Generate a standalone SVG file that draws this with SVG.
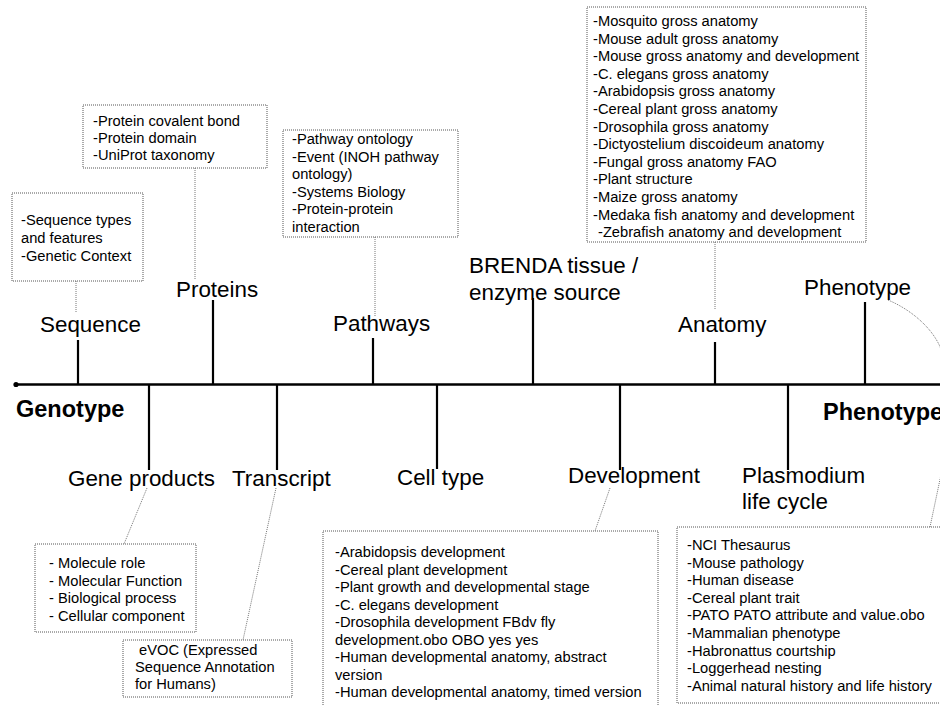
<svg xmlns="http://www.w3.org/2000/svg" width="940" height="706" viewBox="0 0 940 706">
<style>
text{font-family:"Liberation Sans",Arial,sans-serif;fill:#000}
.lbl{font-size:22.4px}
.bold{font-size:23.5px;font-weight:bold}
.t{font-size:14.7px}
.box{fill:none;stroke:#555;stroke-width:1;stroke-dasharray:1 1}
.tick{stroke:#000;stroke-width:2.2;fill:none}
.con{stroke:#777;stroke-width:1;stroke-dasharray:1 1;fill:none}
</style>
<rect width="940" height="706" fill="#fff"/>
<g id="connectors">
<line x1="15" y1="384.5" x2="942" y2="384.5" stroke="#000" stroke-width="2.5"/>
<circle cx="16" cy="384.5" r="2.6" fill="#000"/>
<line class="tick" x1="78" y1="340" x2="78" y2="384"/>
<line class="tick" x1="213" y1="300" x2="213" y2="384"/>
<line class="tick" x1="373" y1="338" x2="373" y2="384"/>
<line class="tick" x1="533" y1="298" x2="533" y2="384"/>
<line class="tick" x1="715" y1="342" x2="715" y2="384"/>
<line class="tick" x1="865" y1="302" x2="865" y2="384"/>
<line class="tick" x1="149" y1="384" x2="149" y2="470"/>
<line class="tick" x1="277" y1="384" x2="277" y2="470"/>
<line class="tick" x1="437" y1="384" x2="437" y2="469"/>
<line class="tick" x1="620" y1="384" x2="620" y2="470"/>
<line class="tick" x1="788" y1="384" x2="788" y2="470"/>
<line class="con" x1="76" y1="281" x2="76" y2="312"/>
<line class="con" x1="195" y1="168" x2="195" y2="280"/>
<line class="con" x1="375" y1="237" x2="375" y2="316"/>
<line class="con" x1="715" y1="242" x2="715" y2="310"/>
<line class="con" x1="147" y1="488" x2="124" y2="544"/>
<line class="con" x1="276" y1="488" x2="243" y2="640"/>
<line class="con" x1="610" y1="488" x2="595" y2="531"/>
<line class="con" x1="930" y1="527" x2="942" y2="470"/>
<path class="con" d="M888 300 C912 310 935 330 942 352"/>
</g>
<g id="genotype"><text class="bold" x="16" y="417">Genotype</text></g>
<g id="phenotype-end"><text class="bold" x="823" y="420">Phenotype</text></g>
<g id="sequence"><text class="lbl" x="40" y="332">Sequence</text></g>
<g id="proteins"><text class="lbl" x="176" y="297">Proteins</text></g>
<g id="pathways"><text class="lbl" x="333" y="331">Pathways</text></g>
<g id="brenda"><text class="lbl" x="469" y="273">BRENDA tissue /</text><text class="lbl" x="469" y="300">enzyme source</text></g>
<g id="anatomy"><text class="lbl" x="678" y="332">Anatomy</text></g>
<g id="phenotype"><text class="lbl" x="804" y="295">Phenotype</text></g>
<g id="gene-products"><text class="lbl" x="68" y="486">Gene products</text></g>
<g id="transcript"><text class="lbl" x="232" y="486">Transcript</text></g>
<g id="cell-type"><text class="lbl" x="397" y="485">Cell type</text></g>
<g id="development"><text class="lbl" x="568" y="483">Development</text></g>
<g id="plasmodium"><text class="lbl" x="742" y="483">Plasmodium</text><text class="lbl" x="742" y="509">life cycle</text></g>

<g id="box-sequence">
<rect class="box" x="12" y="193" width="131" height="88"/>
<text class="t" x="21" y="225">-Sequence types</text>
<text class="t" x="21" y="243">and features</text>
<text class="t" x="21" y="261">-Genetic Context</text>
</g>
<g id="box-proteins">
<rect class="box" x="83" y="105" width="184" height="63"/>
<text class="t" x="93" y="126">-Protein covalent bond</text>
<text class="t" x="93" y="143">-Protein domain</text>
<text class="t" x="93" y="160">-UniProt taxonomy</text>
</g>
<g id="box-pathways">
<rect class="box" x="283" y="130" width="175" height="107"/>
<text class="t" x="292" y="144">-Pathway ontology</text>
<text class="t" x="292" y="161.5">-Event (INOH pathway</text>
<text class="t" x="292" y="179">ontology)</text>
<text class="t" x="292" y="196.5">-Systems Biology</text>
<text class="t" x="292" y="214">-Protein-protein</text>
<text class="t" x="292" y="231.5">interaction</text>
</g>
<g id="box-anatomy">
<rect class="box" x="587" y="7" width="279" height="235"/>
<text class="t" x="593" y="26">-Mosquito gross anatomy</text>
<text class="t" x="593" y="43.6">-Mouse adult gross anatomy</text>
<text class="t" x="593" y="61.2">-Mouse gross anatomy and development</text>
<text class="t" x="593" y="78.8">-C. elegans gross anatomy</text>
<text class="t" x="593" y="96.4">-Arabidopsis gross anatomy</text>
<text class="t" x="593" y="114">-Cereal plant gross anatomy</text>
<text class="t" x="593" y="131.6">-Drosophila gross anatomy</text>
<text class="t" x="593" y="149.2">-Dictyostelium discoideum anatomy</text>
<text class="t" x="593" y="166.8">-Fungal gross anatomy FAO</text>
<text class="t" x="593" y="184.4">-Plant structure</text>
<text class="t" x="593" y="202">-Maize gross anatomy</text>
<text class="t" x="593" y="219.6">-Medaka fish anatomy and development</text>
<text class="t" x="598" y="237.2">-Zebrafish anatomy and development</text>
</g>
<g id="box-gene-products">
<rect class="box" x="35" y="544" width="161" height="88"/>
<text class="t" x="49" y="568">- Molecule role</text>
<text class="t" x="49" y="585.5">- Molecular Function</text>
<text class="t" x="49" y="603">- Biological process</text>
<text class="t" x="49" y="620.5">- Cellular component</text>
</g>
<g id="box-evoc">
<rect class="box" x="123" y="640" width="169" height="57"/>
<text class="t" x="139" y="655">eVOC (Expressed</text>
<text class="t" x="135" y="672">Sequence Annotation</text>
<text class="t" x="135" y="689">for Humans)</text>
</g>
<g id="box-development">
<rect class="box" x="323" y="531" width="335" height="185"/>
<text class="t" x="335" y="557">-Arabidopsis development</text>
<text class="t" x="335" y="574.5">-Cereal plant development</text>
<text class="t" x="335" y="592">-Plant growth and developmental stage</text>
<text class="t" x="335" y="609.5">-C. elegans development</text>
<text class="t" x="335" y="627">-Drosophila development FBdv fly</text>
<text class="t" x="335" y="644.5">development.obo OBO yes yes</text>
<text class="t" x="335" y="662">-Human developmental anatomy, abstract</text>
<text class="t" x="335" y="679.5">version</text>
<text class="t" x="335" y="697">-Human developmental anatomy, timed version</text>
</g>
<g id="box-phenotype">
<rect class="box" x="677" y="527" width="270" height="176"/>
<text class="t" x="687" y="550">-NCI Thesaurus</text>
<text class="t" x="687" y="567.6">-Mouse pathology</text>
<text class="t" x="687" y="585.2">-Human disease</text>
<text class="t" x="687" y="602.8">-Cereal plant trait</text>
<text class="t" x="687" y="620.4">-PATO PATO attribute and value.obo</text>
<text class="t" x="687" y="638">-Mammalian phenotype</text>
<text class="t" x="687" y="655.6">-Habronattus courtship</text>
<text class="t" x="687" y="673.2">-Loggerhead nesting</text>
<text class="t" x="687" y="690.8">-Animal natural history and life history</text>
</g>
</svg>
